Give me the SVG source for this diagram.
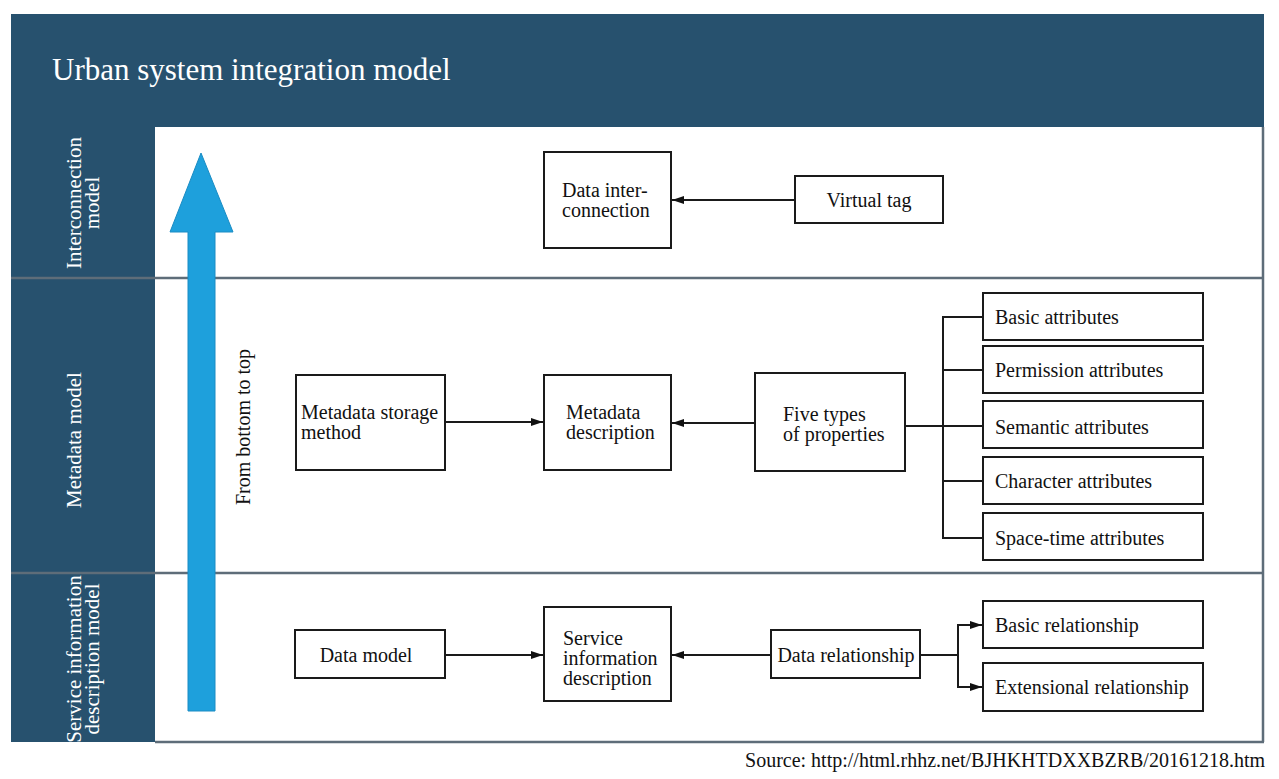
<svg xmlns="http://www.w3.org/2000/svg" width="1279" height="779" viewBox="0 0 1279 779">
<style>
.box{fill:#fff;stroke:#1a1a1a;stroke-width:2}
.t{font-family:"Liberation Serif","Times New Roman",serif;font-size:20px;fill:#111}
.w{font-family:"Liberation Serif","Times New Roman",serif;fill:#fff}
.c{fill:none;stroke:#1a1a1a;stroke-width:2}
.sep{stroke:#5e6d79;stroke-width:2.5;fill:none}
</style>
<defs>
<marker id="ah" viewBox="0 0 12 8" refX="12" refY="4" markerWidth="12" markerHeight="8" markerUnits="userSpaceOnUse" orient="auto">
<path d="M0,0 L12,4 L0,8 Z" fill="#111"/>
</marker>
</defs>
<rect width="1279" height="779" fill="#fff"/>
<g id="frame">
<rect x="11" y="14" width="1253" height="113" fill="#27516e"/>
<rect x="11" y="127" width="144" height="615" fill="#27516e"/>
<rect x="155" y="127" width="1108" height="615" fill="#fff"/>
<line class="sep" x1="11" y1="278" x2="1263" y2="278"/>
<line class="sep" x1="11" y1="573" x2="1263" y2="573"/>
<line class="sep" x1="155" y1="742" x2="1264" y2="742"/>
<line class="sep" x1="1263" y1="127" x2="1263" y2="742"/>
<text class="w" x="52" y="80" font-size="31">Urban system integration model</text>
</g>
<g id="lane-labels">
<text class="w" font-size="21" transform="translate(81,203) rotate(-90)" text-anchor="middle">Interconnection</text>
<text class="w" font-size="21" transform="translate(99,203) rotate(-90)" text-anchor="middle">model</text>
<text class="w" font-size="21" transform="translate(81,440) rotate(-90)" text-anchor="middle">Metadata model</text>
<text class="w" font-size="21" transform="translate(81,659) rotate(-90)" text-anchor="middle">Service information</text>
<text class="w" font-size="21" transform="translate(99,659) rotate(-90)" text-anchor="middle">description model</text>
</g>
<g id="progress-arrow">
<path d="M188,711 L188,232 L170,232 L201,153 L233,232 L215,232 L215,711 Z" fill="#1ea0dc" stroke="#1a8cc4" stroke-width="1"/>
<text class="t" transform="translate(250,427) rotate(-90)" text-anchor="middle">From bottom to top</text>
</g>
<g id="connectors">
<line class="c" x1="795" y1="200" x2="672" y2="200" marker-end="url(#ah)"/>
<line class="c" x1="445" y1="422" x2="543" y2="422" marker-end="url(#ah)"/>
<line class="c" x1="755" y1="423" x2="672" y2="423" marker-end="url(#ah)"/>
<line class="c" x1="905" y1="426" x2="983" y2="426"/>
<path class="c" d="M983,317 H943 V538 H983"/>
<line class="c" x1="943" y1="370" x2="983" y2="370"/>
<line class="c" x1="943" y1="481" x2="983" y2="481"/>
<line class="c" x1="445" y1="655" x2="543" y2="655" marker-end="url(#ah)"/>
<line class="c" x1="771" y1="655" x2="672" y2="655" marker-end="url(#ah)"/>
<path class="c" d="M920,655 H958 V625 H982" marker-end="url(#ah)"/>
<path class="c" d="M958,655 V687 H982" marker-end="url(#ah)"/>
</g>
<g id="n-data-interconnection">
<rect class="box" x="544" y="152" width="127" height="96"/>
<text class="t" x="562" y="197">Data inter-</text>
<text class="t" x="562" y="217">connection</text>
</g>
<g id="n-virtual-tag">
<rect class="box" x="795" y="176" width="148" height="47"/>
<text class="t" x="869" y="207" text-anchor="middle">Virtual tag</text>
</g>
<g id="n-metadata-storage">
<rect class="box" x="296" y="375" width="149" height="95"/>
<text class="t" x="301" y="419">Metadata storage</text>
<text class="t" x="301" y="439">method</text>
</g>
<g id="n-metadata-description">
<rect class="box" x="544" y="375" width="127" height="95"/>
<text class="t" x="566" y="419">Metadata</text>
<text class="t" x="566" y="439">description</text>
</g>
<g id="n-five-types">
<rect class="box" x="755" y="373" width="150" height="98"/>
<text class="t" x="783" y="421">Five types</text>
<text class="t" x="783" y="441">of properties</text>
</g>
<g id="n-basic-attributes">
<rect class="box" x="983" y="293" width="220" height="47"/>
<text class="t" x="995" y="324">Basic attributes</text>
</g>
<g id="n-permission-attributes">
<rect class="box" x="983" y="346" width="220" height="47"/>
<text class="t" x="995" y="377">Permission attributes</text>
</g>
<g id="n-semantic-attributes">
<rect class="box" x="983" y="401" width="220" height="47"/>
<text class="t" x="995" y="434">Semantic attributes</text>
</g>
<g id="n-character-attributes">
<rect class="box" x="983" y="457" width="220" height="47"/>
<text class="t" x="995" y="488">Character attributes</text>
</g>
<g id="n-space-time-attributes">
<rect class="box" x="983" y="513" width="220" height="47"/>
<text class="t" x="995" y="545">Space-time attributes</text>
</g>
<g id="n-data-model">
<rect class="box" x="295" y="630" width="150" height="48"/>
<text class="t" x="366" y="662" text-anchor="middle">Data model</text>
</g>
<g id="n-service-information">
<rect class="box" x="544" y="607" width="127" height="94"/>
<text class="t" x="563" y="645">Service</text>
<text class="t" x="563" y="665">information</text>
<text class="t" x="563" y="685">description</text>
</g>
<g id="n-data-relationship">
<rect class="box" x="771" y="630" width="149" height="48"/>
<text class="t" x="846" y="662" text-anchor="middle">Data relationship</text>
</g>
<g id="n-basic-relationship">
<rect class="box" x="983" y="601" width="220" height="47"/>
<text class="t" x="995" y="632">Basic relationship</text>
</g>
<g id="n-extensional-relationship">
<rect class="box" x="983" y="663" width="220" height="48"/>
<text class="t" x="995" y="694">Extensional relationship</text>
</g>
<text class="t" x="1265" y="767" text-anchor="end" font-size="20.3">Source: http://html.rhhz.net/BJHKHTDXXBZRB/20161218.htm</text>
</svg>
